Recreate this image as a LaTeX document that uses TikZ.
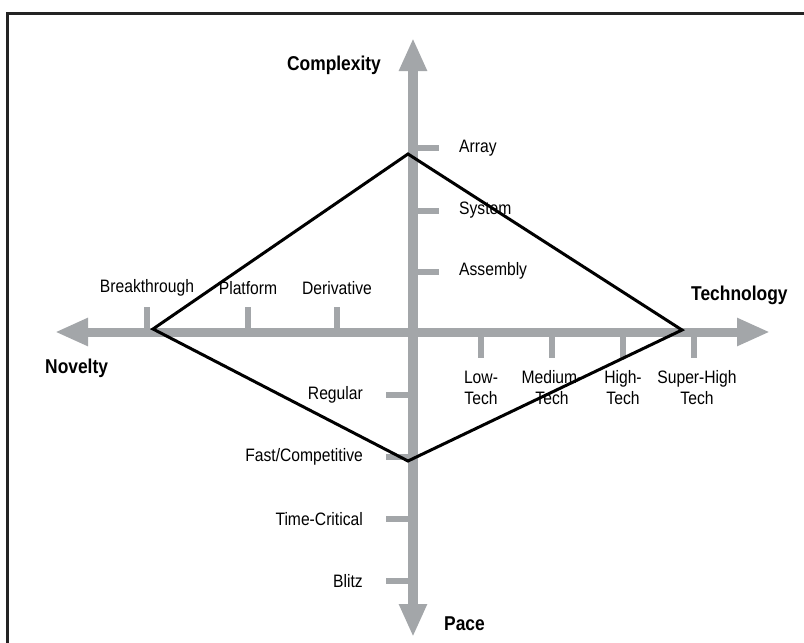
\documentclass[tikz,border=0pt]{standalone}
\usepackage{fontspec}
\setmainfont{Liberation Sans}[FakeStretch=0.87]
\usetikzlibrary{arrows.meta}
\definecolor{axisgray}{RGB}{163,166,169}
\definecolor{framegray}{RGB}{35,35,35}
\tikzset{
	axis/.style={draw=axisgray, -{Triangle[length=33pt,width=26pt]}},
	tick/.style={draw=axisgray, line width=6pt},
	lbl/.style={inner sep=0pt, font=\fontsize{18}{21}\selectfont},
	axlbl/.style={inner sep=0pt, font=\fontsize{20}{24}\selectfont\bfseries},
}
\begin{document}
\begin{tikzpicture}[x=1pt, y=-1pt]
	\useasboundingbox (0,0) rectangle (804,643);
	% frame
	\draw[framegray, line width=3pt](7,643) -- (7,13) -- (804,13);
	% axes
	\coordinate (nov) at (55,332);
	\coordinate (tec) at (770,332);
	\coordinate (cpx) at (413,38);
	\coordinate (pac) at (413,637);
	\draw[axis, line width=9pt](413,332) -- (nov);
	\draw[axis, line width=9pt](413,332) -- (tec);
	\draw[axis, line width=10pt](413,332) -- (cpx);
	\draw[axis, line width=10pt](413,332) -- (pac);
	% ticks
	\draw[tick](147,307) -- (147,332);
	\draw[tick](248,307) -- (248,332);
	\draw[tick](337,307) -- (337,332);
	\draw[tick](481,332) -- (481,358);
	\draw[tick](552,332) -- (552,358);
	\draw[tick](623,332) -- (623,358);
	\draw[tick](694,332) -- (694,358);
	\draw[tick](413,148) -- (439,148);
	\draw[tick](413,211) -- (439,211);
	\draw[tick](413,272) -- (439,272);
	\draw[tick](386,395) -- (413,395);
	\draw[tick](386,457) -- (413,457);
	\draw[tick](386,519) -- (413,519);
	\draw[tick](386,581) -- (413,581);
	% labels
	\node[axlbl] (complexity) at (334,65) {Complexity};
	\node[axlbl, anchor=west] (technology) at (691,295) {Technology};
	\node[axlbl, anchor=west] (novelty) at (45,368) {Novelty};
	\node[axlbl, anchor=west] (pace) at (444,624) {Pace};
	\node[lbl, anchor=west] (array) at (459,148) {Array};
	\node[lbl, anchor=west] (system) at (459,210) {System};
	\node[lbl, anchor=west] (assembly) at (459,271) {Assembly};
	\node[lbl] (breakthrough) at (147,288) {Breakthrough};
	\node[lbl] (platform) at (248,288) {Platform};
	\node[lbl] (derivative) at (337,288) {Derivative};
	\node[lbl, align=center] (lowtech) at (481,388) {Low-\\Tech};
	\node[lbl, align=center] (medtech) at (552,388) {Medium-\\Tech};
	\node[lbl, align=center] (hightech) at (623,388) {High-\\Tech};
	\node[lbl, align=center] (superhigh) at (697,388) {Super-High\\Tech};
	\node[lbl, anchor=east] (regular) at (363,395) {Regular};
	\node[lbl, anchor=east] (fast) at (363,457) {Fast/Competitive};
	\node[lbl, anchor=east] (timecrit) at (363,519) {Time-Critical};
	\node[lbl, anchor=east] (blitz) at (363,581) {Blitz};
	% project profile
	\coordinate (ptop) at (408,154);
	\coordinate (pright) at (682,330);
	\coordinate (pbot) at (408,461);
	\coordinate (pleft) at (153,329);
	\draw[line width=3pt, line join=miter](ptop) -- (pright) -- (pbot) -- (pleft) -- cycle;
\end{tikzpicture}
\end{document}
